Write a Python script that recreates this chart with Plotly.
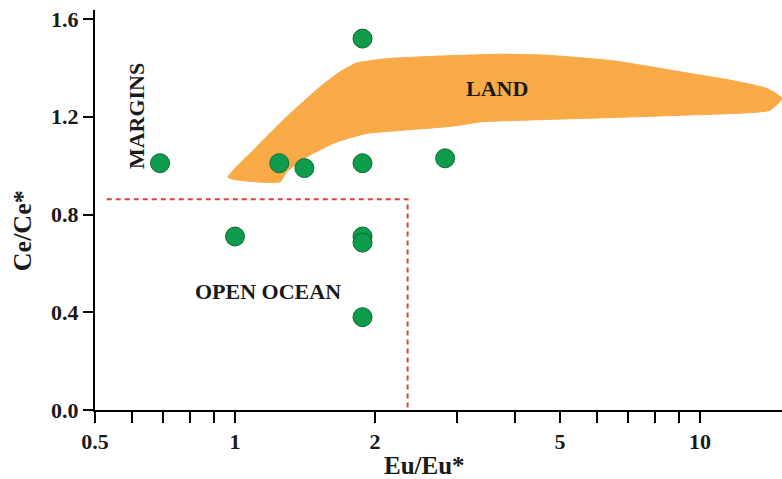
import numpy as np
import plotly.graph_objects as go

# ---- data ----
eu = [0.69, 1.0, 1.245, 1.41, 1.88, 1.88, 1.88, 1.88, 1.88, 2.83]
ce = [1.01, 0.71, 1.01, 0.99, 1.52, 1.01, 0.71, 0.685, 0.38, 1.03]

land_x = [0.967, 1.095, 1.292, 1.523, 1.682, 1.827, 2.12, 2.716, 3.715, 4.68, 6.51, 9.06, 11.6, 13.91, 15.0,
          14.14, 12.6, 9.06, 6.51, 4.68, 3.365, 2.948, 2.301, 1.92, 1.654, 1.427, 1.292, 1.25, 0.967]
land_y = [0.952, 1.063, 1.200, 1.322, 1.384, 1.420, 1.438, 1.448, 1.456, 1.452, 1.429, 1.384, 1.350, 1.316, 1.275,
          1.227, 1.216, 1.206, 1.197, 1.189, 1.179, 1.162, 1.145, 1.132, 1.097, 1.036, 0.975, 0.934, 0.952]

ocean_x = [0.53, 2.35, 2.35]
ocean_y = [0.862, 0.862, 0.0]

x_major = [0.5, 1, 2, 5, 10]
x_minor = [0.6, 0.7, 0.8, 0.9, 3, 4, 6, 7, 8, 9]
y_ticks = [0.0, 0.4, 0.8, 1.2, 1.6]

FONT = "Liberation Serif"

fig = go.Figure()
fig.add_trace(go.Scatter(x=land_x, y=land_y, mode="lines", fill="toself",
                         fillcolor="#F8AA47", line=dict(color="#F8AA47", width=1, shape="spline", smoothing=0.5),
                         hoverinfo="skip"))
fig.add_trace(go.Scatter(x=ocean_x, y=ocean_y, mode="lines",
                         line=dict(color="#D6453D", width=2, dash="5px,4px"), hoverinfo="skip"))
fig.add_trace(go.Scatter(x=eu, y=ce, mode="markers",
                         marker=dict(size=19, color="#0F9B4C", line=dict(color="#0B6B34", width=1))))

tv = x_major + x_minor
tt = [str(v) for v in x_major] + [""] * len(x_minor)

fig.update_layout(
    width=782, height=479,
    margin=dict(l=95, r=0, t=10, b=69),
    paper_bgcolor="white", plot_bgcolor="white",
    showlegend=False,
    font=dict(family=FONT, color="#1a1a1a"),
    xaxis=dict(type="log", range=[np.log10(0.5), np.log10(15.0)],
               tickvals=tv, ticktext=["<b>%s</b>" % t if t else "" for t in tt],
               ticks="outside", ticklen=11, tickwidth=2, tickcolor="black",
               showline=True, linecolor="black", linewidth=2, showgrid=False, zeroline=False,
               tickfont=dict(family=FONT, size=22, color="#1a1a1a")),
    yaxis=dict(range=[0, 1.637], tickvals=y_ticks,
               ticktext=["<b>%.1f</b>" % v for v in y_ticks],
               ticks="outside", ticklen=10, tickwidth=2, tickcolor="black",
               showline=True, linecolor="black", linewidth=2, showgrid=False, zeroline=False,
               tickfont=dict(family=FONT, size=22, color="#1a1a1a")),
)

ann = dict(showarrow=False, xanchor="center", yanchor="middle",
           font=dict(family=FONT, size=22, color="#1a1a1a"))
fig.add_annotation(x=np.log10(3.655), y=1.317, text="<b>LAND</b>", **ann)
fig.add_annotation(x=np.log10(1.175), y=0.485, text="<b>OPEN OCEAN</b>", **ann)
fig.add_annotation(x=np.log10(0.612), y=1.202, text="<b>MARGINS</b>", textangle=-90, **ann)

fig.add_annotation(x=0.480, y=-0.1375, xref="paper", yref="paper", text="<b>Eu/Eu*</b>",
                   xanchor="center", yanchor="middle",
                   showarrow=False, font=dict(family=FONT, size=25, color="#1a1a1a"))
fig.add_annotation(x=-0.106, y=0.4475, xref="paper", yref="paper", text="<b>Ce/Ce*</b>", textangle=-90,
                   xanchor="center", yanchor="middle",
                   showarrow=False, font=dict(family=FONT, size=26, color="#1a1a1a"))

fig.write_html("out.html", config={"displayModeBar": False},
               post_script="document.body.style.margin='0';document.body.style.overflow='hidden';")
